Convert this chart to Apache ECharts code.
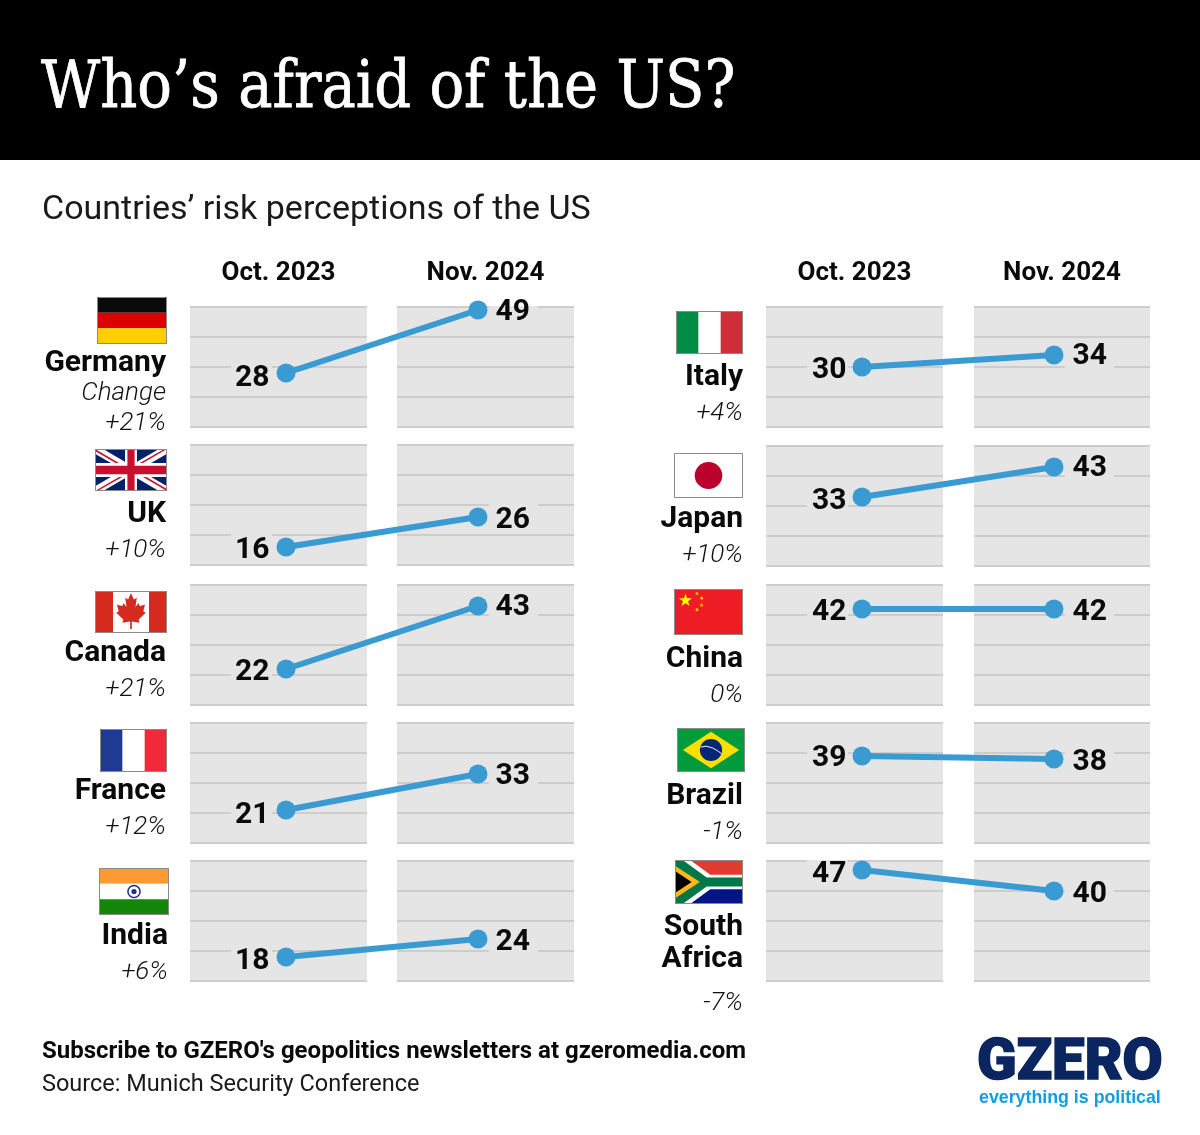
<!DOCTYPE html>
<html><head><meta charset="utf-8">
<style>html,body{margin:0;padding:0;background:#fff}#c{width:1200px;height:1135px}</style>
<script src="https://cdn.jsdelivr.net/npm/echarts@6/dist/echarts.min.js"></script>
</head><body><div id="c"></div>
<script>
// ---------- data ----------
const periods = ['Oct. 2023', 'Nov. 2024'];
const countries = ['Germany', 'UK', 'Canada', 'France', 'India', 'Italy', 'Japan', 'China', 'Brazil', 'South Africa'];
const oct2023 = [28, 16, 22, 21, 18, 30, 33, 42, 39, 47];
const nov2024 = [49, 26, 43, 33, 24, 34, 43, 42, 38, 40];
const changeLabels = ['+21%', '+10%', '+21%', '+12%', '+6%', '+4%', '+10%', '0%', '-1%', '-7%'];
const yTicks = { min: 10, max: 50, interval: 10 };

// ---------- layout (pixels) ----------
const panelTop = [307, 445, 585, 723, 861, 307, 446, 585, 723, 861];
const panelH = 120;
const colX = [[190, 367, 397, 574], [766, 943, 974, 1150]];
const flagBox = [[97,297,70,47],[95,449,72,42],[95,591,72,42],[100,729,67,43],[99,868,70,47],
                 [676,311,67,43],[674,453,69,45],[674,589,69,46],[677,728,68,44],[675,860,68,44]];
const nameLines = [[['Germany',363]],[['UK',514]],[['Canada',653]],[['France',791]],[['India',936]],
                   [['Italy',377]],[['Japan',519]],[['China',659]],[['Brazil',796]],[['South',927],['Africa',959]]];
const changeY = [423,550,689,827,972,413,555,695,832,1003];
const nameRight = [166,166,166,166,168,743,743,743,743,743];
const labelNudge = [[5,2],[3,3],[3,1],[5,2],[4,3],[3,1],[4,1],[3,3],[2,3],[4,3]];

const LINE = '#3a9ad2', PANEL = '#e5e5e5', RULE = '#cdcdcd', INK = '#0a0a0a';
const FONT = 'Roboto, sans-serif';

// ---------- flags, drawn in their own units ----------
const R = (x,y,w,h,fill) => ({type:'rect',shape:{x,y,width:w,height:h},style:{fill}});
const P = (pts,fill) => ({type:'polygon',shape:{points:pts},style:{fill}});
const C = (cx,cy,r,fill,stroke,lw) => ({type:'circle',shape:{cx,cy,r},style:{fill:fill||'none',stroke:stroke||'none',lineWidth:lw||0}});
function star(cx,cy,r,fill,rot){
  const pts=[];
  for(let i=0;i<10;i++){const a=(rot||0)-Math.PI/2+i*Math.PI/5,q=i%2?r*0.382:r;pts.push([cx+q*Math.cos(a),cy+q*Math.sin(a)]);}
  return P(pts,fill);
}
const leafHalf=[[0,-9.5],[1.7,-6.3],[3.4,-7.2],[2.6,-2.5],[4.4,-4.5],[5,-3],[8.2,-3.6],[7.2,-0.4],[8.6,0.4],[4.5,3.8],[5,5.4],[0.5,4.8],[0.5,8.5]];
const flagArt = {
  Germany:[60,36,()=>[R(0,0,60,12,'#0a0a0a'),R(0,12,60,12,'#dd0000'),R(0,24,60,12,'#ffce00')]],
  UK:[60,30,()=>[R(0,0,60,30,'#012169'),
    P([[0,0],[6.7,0],[60,26.65],[60,30],[53.3,30],[0,3.35]],'#fff'),
    P([[60,0],[53.3,0],[0,26.65],[0,30],[6.7,30],[60,3.35]],'#fff'),
    P([[0,0],[25,12.5],[22.2,12.5],[0,1.4]],'#c8102e'),P([[60,30],[35,17.5],[37.8,17.5],[60,28.6]],'#c8102e'),
    P([[35,12.5],[32.2,12.5],[57.8,0],[60,0]],'#c8102e'),P([[25,17.5],[27.8,17.5],[2.2,30],[0,30]],'#c8102e'),
    R(25,0,10,30,'#fff'),R(0,10,60,10,'#fff'),R(27,0,6,30,'#c8102e'),R(0,12,60,6,'#c8102e')]],
  Canada:[40,20,()=>{
    const s=0.95,c=[20,10],right=leafHalf.map(p=>[c[0]+p[0]*s,c[1]+p[1]*s]),left=leafHalf.slice().reverse().map(p=>[c[0]-p[0]*s,c[1]+p[1]*s]);
    return [R(0,0,40,20,'#fff'),R(0,0,10,20,'#d52b1e'),R(30,0,10,20,'#d52b1e'),P(right.concat(left),'#d52b1e')];}],
  France:[3,2,()=>[R(0,0,3,2,'#fff'),R(0,0,1,2,'#1f3a93'),R(2,0,1,2,'#ef2b3a')]],
  India:[60,40,()=>[R(0,0,60,13.4,'#ff9933'),R(0,13.4,60,13.3,'#fff'),R(0,26.7,60,13.3,'#138808'),
    C(30,20,5.2,'none','#1f2f8f',1.3),C(30,20,2.2,'#1f2f8f')]],
  Italy:[3,2,()=>[R(0,0,3,2,'#fff'),R(0,0,1,2,'#008c45'),R(2,0,1,2,'#cd2e3a')]],
  Japan:[60,40,()=>[R(0,0,60,40,'#fff'),C(30,20,12,'#bc002d')]],
  China:[30,20,()=>[R(0,0,30,20,'#ee1c25'),star(5,5,3,'#ffff00'),star(10,2,1,'#ffde00',0.6),star(12,4,1,'#ffde00',0.9),star(12,7,1,'#ffde00',0),star(10,9,1,'#ffde00',0.6)]],
  Brazil:[70,46,()=>[R(0,0,70,46,'#009b3a'),P([[6,23],[35,4],[64,23],[35,42]],'#fedf00'),C(35,23,11.5,'#002776'),
    {type:'polyline',shape:{points:[[24,20],[30,19],[37,21],[42,24],[46,27]]},style:{stroke:'#fff',lineWidth:1,fill:'none'}}]],
  'South Africa':[90,60,()=>[R(0,0,90,30,'#e03c31'),R(0,30,90,30,'#001489'),
    P([[20,0],[46.7,20],[90,20],[90,40],[46.7,40],[20,60],[0,60],[0,0]],'#fff'),
    P([[0,0],[10,0],[42,24],[90,24],[90,36],[42,36],[10,60],[0,60]],'#007749'),
    P([[0,8],[33,30],[0,52]],'#ffb81c'),P([[0,15],[22,30],[0,45]],'#000')]]
};
function flag(name,box){
  const [vw,vh,art]=flagArt[name],[x,y,w,h]=box;
  return [{type:'group',x,y,scaleX:w/vw,scaleY:h/vh,children:art(),silent:true},
          {type:'rect',shape:{x:x+0.5,y:y+0.5,width:w-1,height:h-1},style:{fill:'none',stroke:'#8a8a8a',lineWidth:1},silent:true}];
}
const T = (text,x,y,size,opt) => Object.assign({type:'text',x,y,silent:true,style:Object.assign({
  text,fontFamily:FONT,fontSize:size,fontWeight:400,fill:INK,align:'left',textAlign:'left',verticalAlign:'middle',textVerticalAlign:'middle'},(opt&&opt.style)||{})},opt&&opt.el||{});
const right = (w,st,fill)=>({style:{align:'right',textAlign:'right',fontWeight:w,fontStyle:st||'normal',fill:fill||INK}});

// ---------- graphics ----------
const graphics = [
  {type:'rect',shape:{x:0,y:0,width:1200,height:160},style:{fill:'#000'},silent:true,z:-1},
  T('Who’s afraid of the US?',41,90,66,{style:{fill:'#fff',stroke:'#fff',lineWidth:0.8,fontFamily:'"DejaVu Serif", serif'},el:{scaleX:0.873}}),
  T('Countries’ risk perceptions of the US',42,210,34,{style:{fill:'#1a1a1a'}}),
  T('Subscribe to GZERO\'s geopolitics newsletters at gzeromedia.com',42,1052,24,{style:{fontWeight:700}}),
  T('Source: Munich Security Conference',42,1085,23.5,{style:{fill:'#1a1a1a'}}),
  T('GZERO',977,1065,57,{style:{fontWeight:900,fill:'#0b2560',stroke:'#0b2560',lineWidth:1.5},el:{scaleX:1.02}}),
  T('everything is political',979,1098,17.8,{style:{fontFamily:'"Liberation Sans", sans-serif',fontWeight:700,fill:'#0f9fe0'}}),
  T('Change',166,393,26,right(300,'italic','#111'))
];
countries.forEach((c,i)=>{
  graphics.push(...flag(c,flagBox[i]));
  nameLines[i].forEach(([s,y])=>graphics.push(T(s,nameRight[i],y,30,right(700))));
  graphics.push(T(changeLabels[i],nameRight[i],changeY[i],26,right(300,'italic','#111')));
});

// ---------- grids, axes, series ----------
const grid=[],xAxis=[],yAxis=[],series=[];
const valueAxis=(g,show)=>({gridIndex:g,type:'value',min:yTicks.min,max:yTicks.max,interval:yTicks.interval,show,
  axisLabel:{show:false},axisLine:{show:false},axisTick:{show:false},
  splitLine:{show:true,lineStyle:{color:RULE,width:2}}});
countries.forEach((c,i)=>{
  const col=i<5?0:1,[a,b,d,e]=colX[col],top=panelTop[i];
  [[a,b],[d,e]].forEach(([l,r],k)=>{
    const g=grid.length;
    grid.push({left:l,top,width:r-l,height:panelH,show:true,backgroundColor:PANEL,borderWidth:0});
    xAxis.push({gridIndex:g,type:'category',data:[periods[k]],position:'top',show:i===0||i===5,
      axisLine:{show:false},axisTick:{show:false},splitLine:{show:false},
      axisLabel:{show:true,margin:21,fontFamily:FONT,fontSize:26,fontWeight:700,color:INK}});
    yAxis.push(valueAxis(g,true));
  });
  const g=grid.length;
  grid.push({left:a,top,width:e-a,height:panelH,show:false});
  xAxis.push({gridIndex:g,type:'category',data:periods,boundaryGap:true,show:false});
  yAxis.push(Object.assign(valueAxis(g,false),{splitLine:{show:false}}));
  // panel-coloured plates behind the value labels, which break the rules
  series.push({type:'custom',xAxisIndex:g,yAxisIndex:g,z:1,silent:true,clip:false,animation:false,
    data:[[0,oct2023[i]],[1,nov2024[i]]],encode:{x:0,y:1},
    renderItem(params,api){
      const p=api.coord([api.value(0),api.value(1)]),k=api.value(0),sys=params.coordSys;
      const rect=k===0?{x:p[0]-55,y:p[1]-14,width:41,height:28}:{x:p[0]+11,y:p[1]-14,width:49,height:28};
      return {type:'rect',shape:echarts.graphic.clipRectByRect(rect,{x:sys.x,y:sys.y-1,width:sys.width,height:sys.height+2}),style:{fill:PANEL}};
    }});
  series.push({type:'line',xAxisIndex:g,yAxisIndex:g,z:3,silent:true,animation:false,
    symbol:'circle',symbolSize:19,showSymbol:true,
    lineStyle:{color:LINE,width:6,cap:'round'},itemStyle:{color:LINE},
    data:[
      {value:oct2023[i],label:{show:true,position:'left',distance:i<5?7:6,offset:[0,labelNudge[i][0]]}},
      {value:nov2024[i],label:{show:true,position:'right',distance:i<5?8:9,offset:[0,labelNudge[i][1]]}}
    ],
    label:{color:INK,fontFamily:FONT,fontSize:30,fontWeight:700}});
});

const chart=echarts.init(document.getElementById('c'),null,{renderer:'canvas'});
chart.setOption({animation:false,backgroundColor:'#fff',tooltip:{show:false},grid,xAxis,yAxis,series,graphic:{elements:graphics}});
</script></body></html>
